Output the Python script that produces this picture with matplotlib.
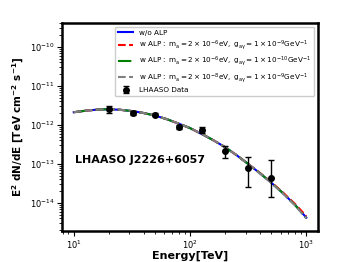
import matplotlib
matplotlib.use("Agg")
import numpy as np
import matplotlib.pyplot as plt

plt.rcParams['mathtext.default'] = 'regular'

# model curves
energy = [10, 13, 16, 20, 25, 32, 40, 50, 63, 80, 100, 130, 160, 200, 250, 316, 400, 500, 630, 800, 1000]
flux_no_alp = [2.12e-12, 2.34e-12, 2.48e-12, 2.53e-12, 2.45e-12, 2.26e-12, 2.02e-12, 1.74e-12, 1.41e-12,
               1.08e-12, 8.3e-13, 5.6e-13, 4.0e-13, 2.7e-13, 1.7e-13, 1.0e-13, 5.75e-14, 3.3e-14,
               1.78e-14, 8.9e-15, 4.2e-15]
flux_alp1 = [2.12e-12, 2.34e-12, 2.48e-12, 2.53e-12, 2.45e-12, 2.26e-12, 2.02e-12, 1.74e-12, 1.41e-12,
             1.08e-12, 8.3e-13, 5.6e-13, 4.0e-13, 2.7e-13, 1.7e-13, 1.0e-13, 5.85e-14, 3.4e-14,
             1.85e-14, 9.4e-15, 4.6e-15]
flux_alp2 = [2.12e-12, 2.34e-12, 2.48e-12, 2.53e-12, 2.45e-12, 2.26e-12, 2.02e-12, 1.74e-12, 1.41e-12,
             1.08e-12, 8.3e-13, 5.6e-13, 4.0e-13, 2.7e-13, 1.7e-13, 1.0e-13, 5.75e-14, 3.3e-14,
             1.78e-14, 8.8e-15, 4.1e-15]
flux_alp3 = [2.12e-12, 2.34e-12, 2.48e-12, 2.53e-12, 2.45e-12, 2.26e-12, 2.02e-12, 1.74e-12, 1.41e-12,
             1.08e-12, 8.3e-13, 5.6e-13, 4.0e-13, 2.7e-13, 1.7e-13, 1.0e-13, 5.7e-14, 3.25e-14,
             1.75e-14, 8.7e-15, 4.0e-15]

# LHAASO data points
data_e = [20, 32, 50, 80, 126, 200, 316, 500]
data_f = [2.62e-12, 2.03e-12, 1.84e-12, 8.7e-13, 7.4e-13, 2.15e-13, 8.1e-14, 4.3e-14]
data_up = [3.07e-12, 2.28e-12, 2.0e-12, 9.8e-13, 9.05e-13, 2.9e-13, 1.54e-13, 1.26e-13]
data_lo = [2.0e-12, 1.8e-12, 1.7e-12, 7.8e-13, 6.35e-13, 1.4e-13, 2.5e-14, 1.4e-14]

labels = [
    'w/o ALP',
    r'w ALP$:\ m_a = 2\times10^{-6}$eV$,\ g_{a\gamma} = 1\times10^{-9}$GeV$^{-1}$',
    r'w ALP$:\ m_a = 2\times10^{-6}$eV$,\ g_{a\gamma} = 1\times10^{-10}$GeV$^{-1}$',
    r'w ALP$:\ m_a = 2\times10^{-8}$eV$,\ g_{a\gamma} = 1\times10^{-9}$GeV$^{-1}$',
    'LHAASO Data',
]

fig = plt.figure(figsize=(3.49, 2.62), dpi=100)
ax = fig.add_axes([0.178, 0.118, 0.733, 0.794])

ax.plot(energy, flux_no_alp, color='blue', lw=1.5, ls='-', label=labels[0])
ax.plot(energy, flux_alp1, color='red', lw=1.5, ls='--', label=labels[1])
ax.plot(energy, flux_alp2, color='green', lw=1.5, ls='-.', label=labels[2])
ax.plot(energy, flux_alp3, color='gray', lw=1.5, ls='--', label=labels[3])

f = np.array(data_f)
yerr = [f - np.array(data_lo), np.array(data_up) - f]
ax.errorbar(data_e, data_f, yerr=yerr, fmt='o', color='black', ms=4, capsize=2,
            elinewidth=1, label=labels[4])

ax.set_xscale('log')
ax.set_yscale('log')
ax.set_xlim(7.94, 1259)
ax.set_ylim(1.9e-15, 4.1e-10)

ax.set_xlabel('Energy[TeV]', fontsize=8, fontweight='bold', labelpad=0)
ax.set_ylabel(r'E$^2$ dN/dE [TeV cm$^{-2}$ s$^{-1}$]', fontsize=7.5, fontweight='bold', labelpad=3)
ax.tick_params(labelsize=6, pad=2)
for s in ax.spines.values():
    s.set_linewidth(1.8)

ax.text(0.05, 0.34, 'LHAASO J2226+6057', transform=ax.transAxes, fontsize=8,
        fontweight='bold', va='center')

ax.legend(loc='upper right', fontsize=5.2, handlelength=2.2, labelspacing=0.35,
          borderpad=0.4, framealpha=1)

fig.savefig('out.png', dpi=100)
